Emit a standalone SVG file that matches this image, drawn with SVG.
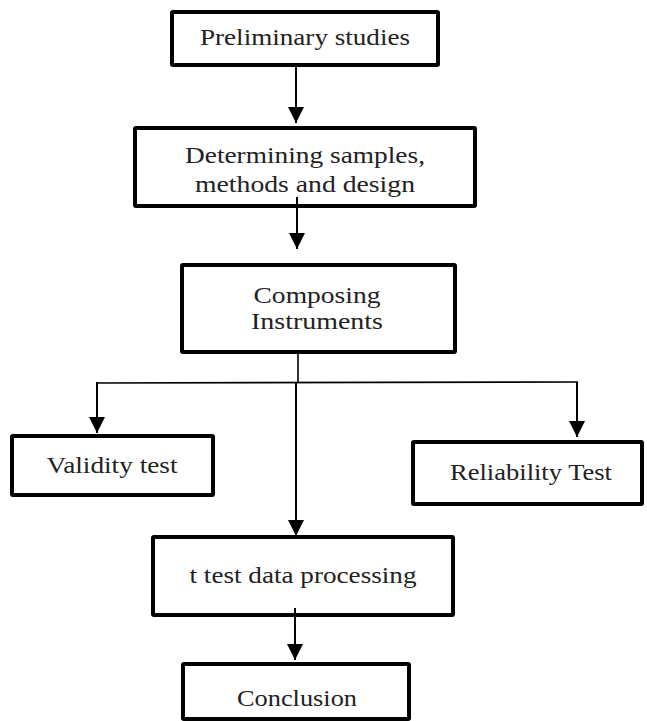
<svg xmlns="http://www.w3.org/2000/svg" width="647" height="721" viewBox="0 0 647 721">
  <defs>
    <marker id="arrow" markerUnits="userSpaceOnUse" markerWidth="16" markerHeight="16" viewBox="0 0 16 16" refX="16" refY="8" orient="auto">
      <path d="M0,0 L16,8 L0,16 z" fill="#000"/>
    </marker>
    <style>
      .box { fill: #fff; stroke: #000; stroke-width: 4; }
      .lbl { font-family: "Liberation Serif", "DejaVu Serif", serif; font-size: 23px; fill: #222; text-anchor: middle; }
      .arr { stroke: #000; stroke-width: 2; fill: none; marker-end: url(#arrow); }
      .ln { stroke: #000; stroke-width: 1.6; fill: none; }
    </style>
  </defs>
  <rect width="647" height="721" fill="#fff"/>

  <g id="n1">
    <rect class="box" x="172" y="12" width="266" height="53" rx="1"/>
    <text class="lbl" x="305" y="45" textLength="210" lengthAdjust="spacingAndGlyphs">Preliminary studies</text>
  </g>
  <g id="n2">
    <rect class="box" x="135" y="128" width="340" height="78" rx="1"/>
    <text class="lbl" x="305" y="163" textLength="240" lengthAdjust="spacingAndGlyphs">Determining samples,</text>
    <text class="lbl" x="305" y="192" textLength="220" lengthAdjust="spacingAndGlyphs">methods and design</text>
  </g>
  <g id="n3">
    <rect class="box" x="182" y="265" width="273" height="87" rx="1"/>
    <text class="lbl" x="317" y="303" textLength="127" lengthAdjust="spacingAndGlyphs">Composing</text>
    <text class="lbl" x="317" y="329" textLength="132" lengthAdjust="spacingAndGlyphs">Instruments</text>
  </g>
  <g id="n4">
    <rect class="box" x="12" y="436" width="201" height="59" rx="1"/>
    <text class="lbl" x="112" y="473" textLength="131" lengthAdjust="spacingAndGlyphs">Validity test</text>
  </g>
  <g id="n5">
    <rect class="box" x="413" y="442" width="229" height="62" rx="1"/>
    <text class="lbl" x="531" y="480" textLength="162" lengthAdjust="spacingAndGlyphs">Reliability Test</text>
  </g>
  <g id="n6">
    <rect class="box" x="153" y="537" width="300" height="78" rx="1"/>
    <text class="lbl" x="303" y="583" textLength="227" lengthAdjust="spacingAndGlyphs">t test data processing</text>
  </g>
  <g id="n7">
    <rect class="box" x="183" y="664" width="226" height="55" rx="1"/>
    <text class="lbl" x="297" y="706" textLength="120" lengthAdjust="spacingAndGlyphs">Conclusion</text>
  </g>

  <g id="connectors">
    <line class="arr" x1="296" y1="67" x2="296" y2="123"/>
    <line class="arr" x1="297" y1="197" x2="297" y2="249"/>
    <line class="ln" x1="298" y1="354" x2="298" y2="383"/>
    <line class="ln" x1="97" y1="383" x2="578" y2="382"/>
    <line class="arr" x1="97" y1="382" x2="97" y2="433"/>
    <line class="arr" x1="577" y1="382" x2="577" y2="437"/>
    <line class="arr" x1="296" y1="383" x2="296" y2="536"/>
    <line class="arr" x1="295" y1="608" x2="295" y2="660"/>
  </g>
</svg>
